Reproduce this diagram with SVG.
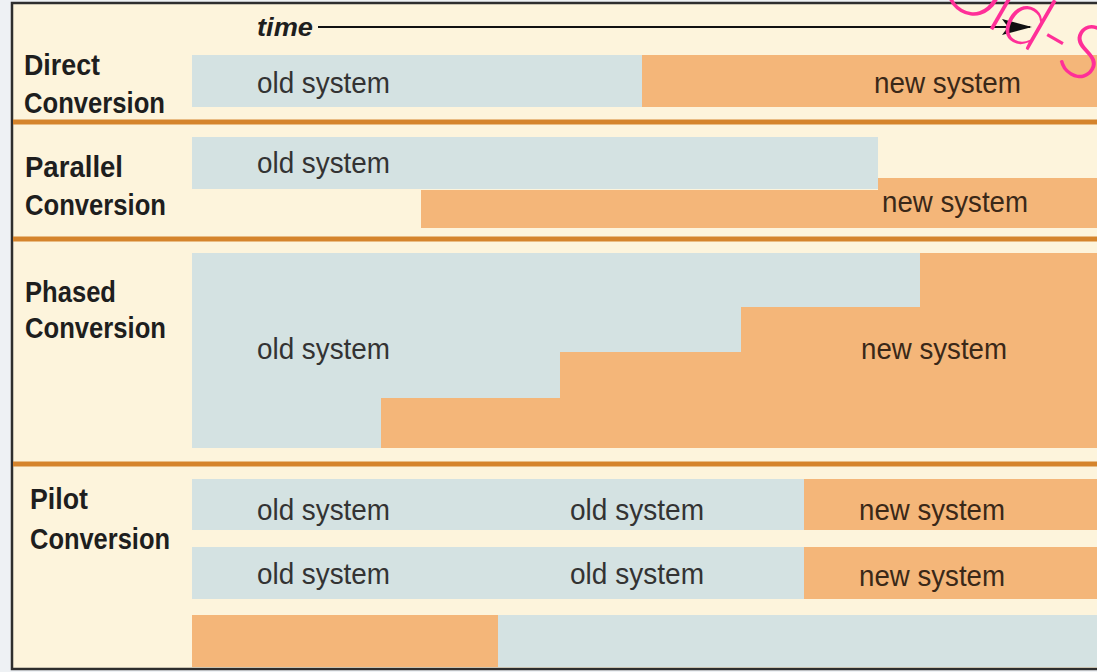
<svg xmlns="http://www.w3.org/2000/svg" width="1097" height="672" viewBox="0 0 1097 672">
<defs>
<style>
.bg{fill:#fdf4dc}
.old{fill:#d4e2e2}
.new{fill:#f4b679}
.sep{stroke:#d5842c;stroke-width:5}
.lbl{font-family:"Liberation Sans",Arial,sans-serif;font-weight:bold;font-size:29px;fill:#1e1e1e}
.bt{font-family:"Liberation Sans",Arial,sans-serif;font-size:29px;fill:#333333}
.nt{fill:#3a2818}
</style>
<marker id="ah" viewBox="0 0 30 16" refX="28" refY="8" markerWidth="30" markerHeight="16" markerUnits="userSpaceOnUse" orient="auto">
<path d="M0,0 L30,8 L0,16 L6,8 Z" fill="#111"/>
</marker>
</defs>
<rect x="0" y="0" width="1097" height="672" fill="#eef1f4"/>
<rect x="12" y="3" width="1090" height="666" class="bg" stroke="#2e2e2e" stroke-width="2.5"/>
<g id="separators">
<line x1="13" y1="122" x2="1097" y2="122" class="sep"/>
<line x1="13" y1="239" x2="1097" y2="239" class="sep"/>
<line x1="13" y1="464" x2="1097" y2="464" class="sep"/>
</g>
<g id="direct">
<rect x="192" y="55" width="450" height="52" class="old"/>
<rect x="642" y="55" width="455" height="52" class="new"/>
<text class="lbl" x="24" y="75" textLength="76" lengthAdjust="spacingAndGlyphs">Direct</text>
<text class="lbl" x="24" y="113" textLength="141" lengthAdjust="spacingAndGlyphs">Conversion</text>
<text class="bt" x="257" y="93" textLength="133" lengthAdjust="spacingAndGlyphs">old system</text>
<text class="bt nt" x="874" y="93" textLength="147" lengthAdjust="spacingAndGlyphs">new system</text>
</g>
<g id="parallel">
<rect x="192" y="137" width="686" height="52" class="old"/>
<polygon points="421,190 878,190 878,178 1097,178 1097,228 421,228" class="new"/>
<text class="lbl" x="25" y="177" textLength="98" lengthAdjust="spacingAndGlyphs">Parallel</text>
<text class="lbl" x="25" y="215" textLength="141" lengthAdjust="spacingAndGlyphs">Conversion</text>
<text class="bt" x="257" y="173" textLength="133" lengthAdjust="spacingAndGlyphs">old system</text>
<text class="bt nt" x="882" y="212" textLength="146" lengthAdjust="spacingAndGlyphs">new system</text>
</g>
<g id="phased">
<rect x="192" y="253" width="905" height="195" class="old"/>
<polygon points="381,448 381,398 560,398 560,352 741,352 741,307 920,307 920,253 1097,253 1097,448" class="new"/>
<text class="lbl" x="25" y="302" textLength="91" lengthAdjust="spacingAndGlyphs">Phased</text>
<text class="lbl" x="25" y="338" textLength="141" lengthAdjust="spacingAndGlyphs">Conversion</text>
<text class="bt" x="257" y="359" textLength="133" lengthAdjust="spacingAndGlyphs">old system</text>
<text class="bt nt" x="861" y="359" textLength="146" lengthAdjust="spacingAndGlyphs">new system</text>
</g>
<g id="pilot">
<rect x="192" y="479" width="612" height="51" class="old"/>
<rect x="804" y="479" width="293" height="51" class="new"/>
<rect x="192" y="547" width="612" height="52" class="old"/>
<rect x="804" y="547" width="293" height="52" class="new"/>
<rect x="192" y="615" width="306" height="52" class="new"/>
<rect x="498" y="615" width="599" height="52" class="old"/>
<text class="lbl" x="30" y="509" textLength="58" lengthAdjust="spacingAndGlyphs">Pilot</text>
<text class="lbl" x="30" y="549" textLength="140" lengthAdjust="spacingAndGlyphs">Conversion</text>
<text class="bt" x="257" y="520" textLength="133" lengthAdjust="spacingAndGlyphs">old system</text>
<text class="bt" x="570" y="520" textLength="134" lengthAdjust="spacingAndGlyphs">old system</text>
<text class="bt nt" x="859" y="520" textLength="146" lengthAdjust="spacingAndGlyphs">new system</text>
<text class="bt" x="257" y="584" textLength="133" lengthAdjust="spacingAndGlyphs">old system</text>
<text class="bt" x="570" y="584" textLength="134" lengthAdjust="spacingAndGlyphs">old system</text>
<text class="bt nt" x="859" y="586" textLength="146" lengthAdjust="spacingAndGlyphs">new system</text>
</g>
<g id="connectors">
<line x1="318" y1="27" x2="1030" y2="27" stroke="#111" stroke-width="2" marker-end="url(#ah)"/>
</g>
<g id="time-label">
<text x="257" y="36" font-family="'Liberation Sans',Arial,sans-serif" font-weight="bold" font-style="italic" font-size="26" fill="#1e1e1e" textLength="56" lengthAdjust="spacingAndGlyphs">time</text>
</g>
<g id="watermark">
<text transform="translate(934,-4) rotate(30)" font-family="Lato,'Open Sans','Liberation Sans',sans-serif" font-weight="300" font-size="78" letter-spacing="-3" fill="#ff2f98">Old-S</text>
</g>
</svg>
